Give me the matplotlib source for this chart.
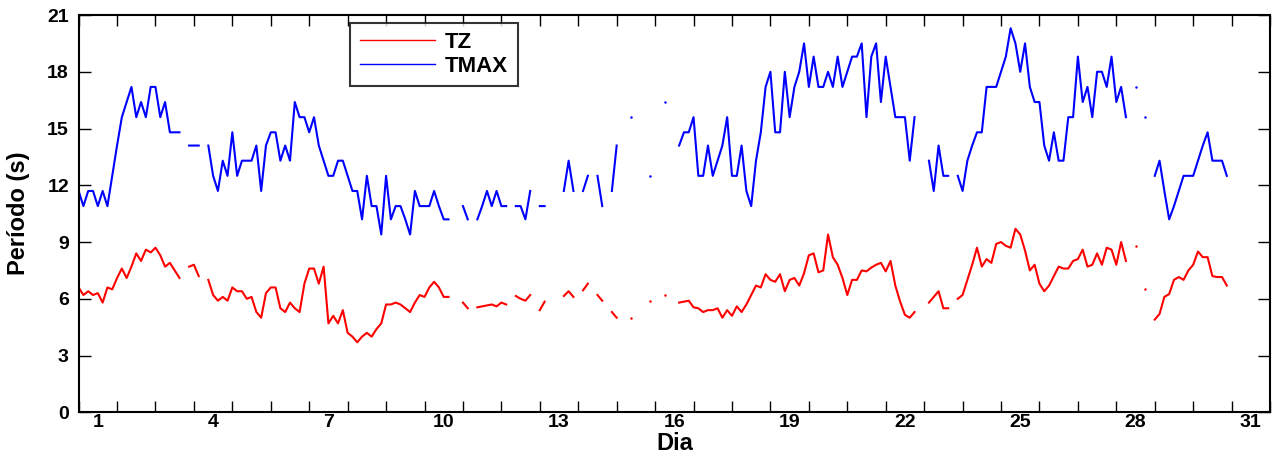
import numpy as np
import matplotlib
matplotlib.use('Agg')
import matplotlib.pyplot as plt

nan = np.nan

# periodos de 3 em 3 horas (8 valores por dia), dias 1 a 30
tmax = [
    11.7, 10.9, 11.7, 11.7, 10.9, 11.7, 10.9, 12.5,
    14.1, 15.6, 16.4, 17.2, 15.6, 16.4, 15.6, 17.2,
    17.2, 15.6, 16.4, 14.8, 14.8, 14.8, nan, 14.1,
    14.1, 14.1, nan, 14.1, 12.5, 11.7, 13.3, 12.5,
    14.8, 12.5, 13.3, 13.3, 13.3, 14.1, 11.7, 14.1,
    14.8, 14.8, 13.3, 14.1, 13.3, 16.4, 15.6, 15.6,
    14.8, 15.6, 14.1, 13.3, 12.5, 12.5, 13.3, 13.3,
    12.5, 11.7, 11.7, 10.2, 12.5, 10.9, 10.9, 9.4,
    12.5, 10.2, 10.9, 10.9, 10.2, 9.4, 11.7, 10.9,
    10.9, 10.9, 11.7, 10.9, 10.2, 10.2, nan, nan,
    10.9, 10.2, nan, 10.2, 10.9, 11.7, 10.9, 11.7,
    10.9, 10.9, nan, 10.9, 10.9, 10.2, 11.7, nan,
    10.9, 10.9, nan, nan, nan, 11.7, 13.3, 11.7,
    nan, 11.7, 12.5, nan, 12.5, 10.9, nan, 11.7,
    14.1, nan, nan, 15.6, nan, nan, nan, 12.5,
    nan, nan, 16.4, nan, nan, 14.1, 14.8, 14.8,
    15.6, 12.5, 12.5, 14.1, 12.5, 13.3, 14.1, 15.6,
    12.5, 12.5, 14.1, 11.7, 10.9, 13.3, 14.8, 17.2,
    18.0, 14.8, 14.8, 18.0, 15.6, 17.2, 18.0, 19.5,
    17.2, 18.8, 17.2, 17.2, 18.0, 17.2, 18.8, 17.2,
    18.0, 18.8, 18.8, 19.5, 15.6, 18.8, 19.5, 16.4,
    18.8, 17.2, 15.6, 15.6, 15.6, 13.3, 15.6, nan,
    nan, 13.3, 11.7, 14.1, 12.5, 12.5, nan, 12.5,
    11.7, 13.3, 14.1, 14.8, 14.8, 17.2, 17.2, 17.2,
    18.0, 18.8, 20.3, 19.5, 18.0, 19.5, 17.2, 16.4,
    16.4, 14.1, 13.3, 14.8, 13.3, 13.3, 15.6, 15.6,
    18.8, 16.4, 17.2, 15.6, 18.0, 18.0, 17.2, 18.8,
    16.4, 17.2, 15.6, nan, 17.2, nan, 15.6, nan,
    12.5, 13.3, 11.7, 10.2, 10.9, 11.7, 12.5, 12.5,
    12.5, 13.3, 14.1, 14.8, 13.3, 13.3, 13.3, 12.5,
]

tz = [
    6.6, 6.2, 6.4, 6.2, 6.3, 5.8, 6.6, 6.5,
    7.1, 7.6, 7.1, 7.7, 8.4, 8.0, 8.6, 8.45,
    8.7, 8.3, 7.7, 7.9, 7.5, 7.1, nan, 7.7,
    7.8, 7.2, nan, 7.0, 6.2, 5.9, 6.1, 5.9,
    6.6, 6.4, 6.4, 6.0, 6.1, 5.3, 5.0, 6.3,
    6.6, 6.6, 5.5, 5.3, 5.8, 5.5, 5.3, 6.8,
    7.6, 7.6, 6.8, 7.7, 4.7, 5.1, 4.7, 5.4,
    4.2, 4.0, 3.7, 4.0, 4.2, 4.0, 4.4, 4.7,
    5.7, 5.7, 5.8, 5.7, 5.5, 5.3, 5.8, 6.2,
    6.1, 6.6, 6.9, 6.6, 6.1, 6.1, nan, nan,
    5.8, 5.5, nan, 5.55, 5.6, 5.65, 5.7, 5.6,
    5.8, 5.7, nan, 6.15, 6.0, 5.9, 6.2, nan,
    5.4, 5.85, nan, nan, nan, 6.15, 6.4, 6.1,
    nan, 6.45, 6.8, nan, 6.2, 5.9, nan, 5.3,
    5.0, nan, nan, 5.0, nan, nan, nan, 5.9,
    nan, nan, 6.2, nan, nan, 5.8, 5.85, 5.9,
    5.55, 5.5, 5.3, 5.4, 5.4, 5.5, 5.0, 5.4,
    5.1, 5.6, 5.3, 5.7, 6.2, 6.7, 6.6, 7.3,
    7.0, 6.9, 7.3, 6.4, 7.0, 7.1, 6.7, 7.35,
    8.3, 8.4, 7.4, 7.5, 9.4, 8.2, 7.8, 7.1,
    6.2, 7.0, 7.0, 7.5, 7.45, 7.65, 7.8, 7.9,
    7.45, 8.0, 6.7, 5.85, 5.15, 5.0, 5.3, nan,
    nan, 5.8, 6.1, 6.4, 5.5, 5.5, nan, 6.0,
    6.2, 7.0, 7.8, 8.7, 7.7, 8.1, 7.9, 8.9,
    9.0, 8.8, 8.7, 9.7, 9.4, 8.55, 7.5, 7.8,
    6.8, 6.4, 6.7, 7.2, 7.7, 7.6, 7.6, 8.0,
    8.1, 8.6, 7.7, 7.8, 8.4, 7.8, 8.7, 8.6,
    7.8, 9.0, 8.0, nan, 8.8, nan, 6.5, nan,
    4.9, 5.2, 6.1, 6.25, 7.0, 7.15, 7.0, 7.5,
    7.8, 8.5, 8.2, 8.2, 7.2, 7.15, 7.15, 6.7,
]

dias = list(range(1, 32, 3))
yticks = list(range(0, 22, 3))

plt.rcParams['font.family'] = ['Liberation Sans', 'DejaVu Sans']
plt.rcParams['font.weight'] = 'bold'

tmax = np.array(tmax)
tz = np.array(tz)
t = np.arange(len(tz)) / 8.0


def isolados(v):
    # pontos sem vizinhos validos (a linha nao os desenha)
    ok = np.isfinite(v)
    prev = np.r_[False, ok[:-1]]
    nxt = np.r_[ok[1:], False]
    return ok & ~prev & ~nxt


fig = plt.figure(figsize=(12.74, 4.59), dpi=100)
ax = fig.add_axes([0.0617, 0.1017, 0.9352, 0.8656])

ax.plot(t, tz, color='red', lw=1.5, label='TZ')
ax.plot(t, tmax, color='blue', lw=1.5, label='TMAX')
m = isolados(tz)
ax.plot(t[m], tz[m], 'o', color='red', ms=1.8, mew=0)
m = isolados(tmax)
ax.plot(t[m], tmax[m], 'o', color='blue', ms=1.8, mew=0)

ax.set_xlim(0, 31)
ax.set_ylim(0, 21)

ax.set_xticks(np.arange(0, 32))
ax.set_xticks([d - 0.5 for d in dias], minor=True)
ax.set_xticklabels([str(d) for d in dias], minor=True, fontsize=14, fontweight='bold')
ax.tick_params(axis='x', which='major', direction='in', length=8, width=1,
               top=True, labelbottom=False)
ax.tick_params(axis='x', which='minor', length=0, pad=1.5)

ax.set_yticks(yticks)
ax.set_yticklabels([str(v) for v in yticks], fontsize=14, fontweight='bold')
ax.tick_params(axis='y', direction='in', length=8.5, width=1, right=True, pad=7)

for s in ax.spines.values():
    s.set_linewidth(1.5)

ax.set_xlabel('Dia', fontsize=17, fontweight='bold', labelpad=0.5)
ax.set_ylabel('Período (s)', fontsize=17, fontweight='bold', labelpad=12)

leg = ax.legend(loc='upper left', bbox_to_anchor=(0.228, 0.981), borderaxespad=0,
                fancybox=False, frameon=True, edgecolor='black', handlelength=3.4,
                handletextpad=0.45, labelspacing=0.12, borderpad=0.42,
                prop={'size': 16, 'weight': 'bold'})
leg.get_frame().set_linewidth(1.5)
for h in leg.get_lines():
    h.set_linewidth(1.0)

fig.savefig('out.png', dpi=100)
